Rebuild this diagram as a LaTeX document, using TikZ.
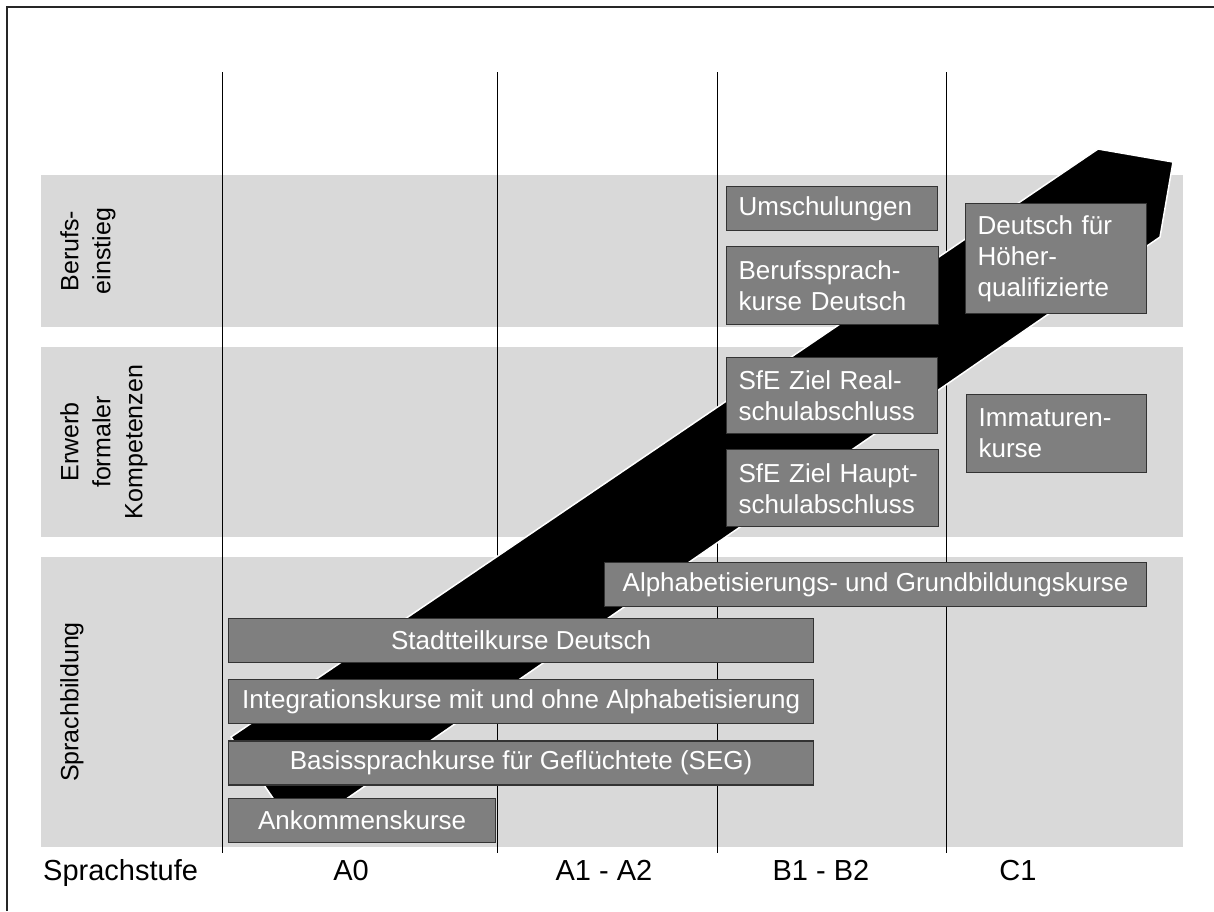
\documentclass[tikz,border=0pt]{standalone}
\usepackage{fontspec}
\setmainfont{Liberation Sans}
\usetikzlibrary{positioning}
\definecolor{bandgrey}{HTML}{D9D9D9}
\definecolor{boxgrey}{HTML}{7F7F7F}
\tikzset{
    band/.style={fill=bandgrey},
    level line/.style={draw=black, line width=0.8pt},
    pathway/.style={fill=black, draw=white, line width=1.5pt},
    course/.style={draw=black!80, line width=1.2pt, fill=boxgrey, text=white,
        inner ysep=0pt, font=\fontsize{26}{31}\selectfont},
    wide course/.style={course, inner xsep=0pt, minimum height=44pt, anchor=north west},
    side course/.style={course, align=left, inner xsep=12pt, anchor=north west},
    area label/.style={rotate=90, anchor=north, inner sep=0pt, align=center,
        font=\fontsize{25}{32}\selectfont},
    level label/.style={anchor=base, inner sep=0pt, font=\fontsize{29}{34}\selectfont}
}

\begin{document}
\begin{tikzpicture}[x=1pt, y=-1pt]
    \useasboundingbox (0,0) rectangle (1214,911);
    \draw[line width=1.6pt, black!85] (7,911) -- (7,7) -- (1214,7);

    % bands
    \fill[band] (41,175) rectangle (1183,327);
    \fill[band] (41,347) rectangle (1183,537);
    \fill[band] (41,557) rectangle (1183,847);

    \node[area label] (beruf) at (60,251) {Berufs-\\einstieg};
    \node[area label] (erwerb) at (60,442) {Erwerb\\formaler\\Kompetenzen};
    \node[area label] (sprach) at (60,702) {Sprachbildung};

    \foreach \x in {222,497,717,946}
        \draw[level line] (\x,72) -- (\x,853);

    % progress arrow
    \draw[pathway] (231,737) -- (1098,149) -- (1173,162) -- (1160,237) -- (297,833) -- cycle;

    % Sprachbildung
    \node[wide course, minimum width=542pt] (alpha) at (604,562) {Alphabetisierungs- und Grundbildungskurse};
    \node[wide course, minimum width=585pt] (stadt) at (228,618) {Stadtteilkurse Deutsch};
    \node[wide course, minimum width=585pt, below=16pt of stadt] (integ) {Integrationskurse mit und ohne Alphabetisierung};
    \node[wide course, minimum width=585pt, below=16pt of integ] (basis) {Basissprachkurse f\"ur Gefl\"uchtete (SEG)};
    \node[wide course, minimum width=267pt, below=12pt of basis.south west, anchor=north west] (ankommen) {Ankommenskurse};

    % B1 - B2
    \node[side course, text width=187pt, minimum height=44pt] (umsch) at (726,186) {Umschulungen};
    \node[side course, text width=188pt, minimum height=78pt, below=15pt of umsch.south west, anchor=north west] (berufs) {Berufssprach-\\kurse Deutsch};
    \node[side course, text width=187pt, minimum height=76pt] (real) at (726,357) {SfE Ziel Real-\\schulabschluss};
    \node[side course, text width=188pt, minimum height=77pt, below=15pt of real.south west, anchor=north west] (haupt) {SfE Ziel Haupt-\\schulabschluss};

    % C1
    \node[side course, text width=157pt, minimum height=110pt] (hoeher) at (965,203) {Deutsch f\"ur\\H\"oher-\\qualifizierte};
    \node[side course, text width=156pt, minimum height=78pt] (immat) at (966,394) {Immaturen-\\kurse};

    % Sprachstufen
    \node[level label, anchor=base west] (stufe) at (43,880) {Sprachstufe};
    \node[level label] (a0) at (351,880) {A0};
    \node[level label] (a1) at (604,880) {A1 - A2};
    \node[level label] (b1) at (821,880) {B1 - B2};
    \node[level label] (c1) at (1018,880) {C1};
\end{tikzpicture}
\end{document}
